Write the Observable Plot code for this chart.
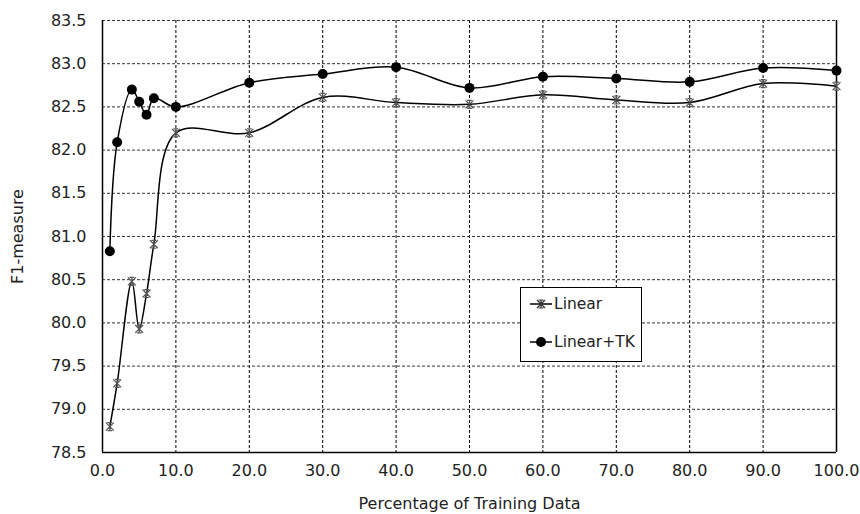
<!DOCTYPE html>
<html>
<head>
<meta charset="utf-8">
<script src="https://cdn.jsdelivr.net/npm/d3@7"></script>
<script src="https://cdn.jsdelivr.net/npm/@observablehq/plot@0.6"></script>
<style>
  html, body { margin: 0; padding: 0; background: #fff; }
  #wrap { position: relative; width: 860px; height: 514px; }
  #legend {
    position: absolute; left: 520px; top: 287px; width: 122px; height: 75px;
    border: 1px solid #000; background: #fff; box-sizing: border-box;
    font-family: "DejaVu Sans", Verdana, sans-serif; font-size: 15.5px; color: #222;
  }
  #legend .row { position: absolute; left: 8px; display: flex; align-items: center; }
  #legend svg { display: block; }
</style>
</head>
<body>
<div id="wrap"></div>
<script>
// ---- data ----
const percentages = [1, 2, 4, 5, 6, 7, 10, 20, 30, 40, 50, 60, 70, 80, 90, 100];
const linearF1   = [78.80, 79.30, 80.48, 79.93, 80.34, 80.91, 82.20, 82.20, 82.61, 82.55, 82.53, 82.64, 82.58, 82.55, 82.77, 82.74];
const linearTkF1 = [80.83, 82.09, 82.70, 82.56, 82.41, 82.60, 82.50, 82.78, 82.88, 82.96, 82.72, 82.85, 82.83, 82.79, 82.95, 82.92];
const seriesNames = ["Linear", "Linear+TK"];
const xTicks = [0, 10, 20, 30, 40, 50, 60, 70, 80, 90, 100];
const yTicks = [78.5, 79.0, 79.5, 80.0, 80.5, 81.0, 81.5, 82.0, 82.5, 83.0, 83.5];

const linData = percentages.map((p, i) => ({x: p, y: linearF1[i], s: seriesNames[0]}));
const tkData = percentages.map((p, i) => ({x: p, y: linearTkF1[i], s: seriesNames[1]}));

// Excel-like star marker: X + vertical line + small bars top/bottom
const starSymbol = {
  draw(ctx, size) {
    const r = Math.sqrt(size) / 2;
    ctx.moveTo(-r, -r); ctx.lineTo(r, r);
    ctx.moveTo(-r, r); ctx.lineTo(r, -r);
    ctx.moveTo(0, -r); ctx.lineTo(0, r);
    ctx.moveTo(-r * 0.6, -r); ctx.lineTo(r * 0.6, -r);
    ctx.moveTo(-r * 0.6, r); ctx.lineTo(r * 0.6, r);
  }
};

const fmt = d3.format(".1f");
const dash = "3,2";
const FS = 16;

const chart = Plot.plot({
  width: 860,
  height: 514,
  marginLeft: 102,
  marginRight: 24,
  marginTop: 20,
  marginBottom: 62,
  style: {fontFamily: "'DejaVu Sans', Verdana, sans-serif", fontSize: "16px", color: "#222", background: "#fff"},
  x: {domain: [0, 100]},
  y: {domain: [78.5, 83.5]},
  marks: [
    Plot.gridX(xTicks.filter(d => d > 0 && d < 100), {stroke: "#000", strokeOpacity: 1, strokeDasharray: dash}),
    Plot.gridY(yTicks.filter(d => d > 78.5), {stroke: "#333", strokeOpacity: 1, strokeDasharray: dash}),
    Plot.axisX(xTicks, {tickSize: 0, tickPadding: 12, tickFormat: fmt, fontSize: FS, label: "Percentage of Training Data", labelAnchor: "center", labelArrow: "none", labelOffset: 56}),
    Plot.axisY(yTicks, {tickSize: 0, tickPadding: 16, tickFormat: fmt, fontSize: FS, label: "F1-measure", labelAnchor: "center", labelArrow: "none", labelOffset: 91}),
    Plot.ruleX([0, 100], {stroke: "#000", strokeWidth: 1.5}),
    Plot.ruleY([78.5], {stroke: "#000", strokeWidth: 1.5}),
    Plot.line(linData, {x: "x", y: "y", curve: "catmull-rom", stroke: "#000", strokeWidth: 1.5}),
    Plot.line(tkData, {x: "x", y: "y", curve: "catmull-rom", stroke: "#000", strokeWidth: 1.5}),
    Plot.dot(tkData, {x: "x", y: "y", r: 5, fill: "#000", stroke: "none"}),
    Plot.dot(linData, {x: "x", y: "y", r: 4.5, symbol: starSymbol, stroke: "#555", strokeWidth: 1.2, fill: "none"})
  ]
});
const wrap = document.getElementById("wrap");
wrap.appendChild(chart);

// legend
const legend = document.createElement("div");
legend.id = "legend";
const starPath = d3.path();
starSymbol.draw(starPath, 64);
legend.innerHTML = `
  <div class="row" style="top:6px">
    <svg width="24" height="20"><line x1="1" y1="10" x2="23" y2="10" stroke="#000" stroke-width="1.5"/>
    <path transform="translate(12,10)" d="${starPath.toString()}" stroke="#333" stroke-width="1.2" fill="none"/></svg>
    <span style="margin-left:1px">${seriesNames[0]}</span>
  </div>
  <div class="row" style="top:44px">
    <svg width="24" height="20"><line x1="1" y1="10" x2="23" y2="10" stroke="#000" stroke-width="1.5"/>
    <circle cx="12" cy="10" r="5" fill="#000"/></svg>
    <span style="margin-left:1px">${seriesNames[1]}</span>
  </div>`;
wrap.appendChild(legend);
</script>
</body>
</html>
